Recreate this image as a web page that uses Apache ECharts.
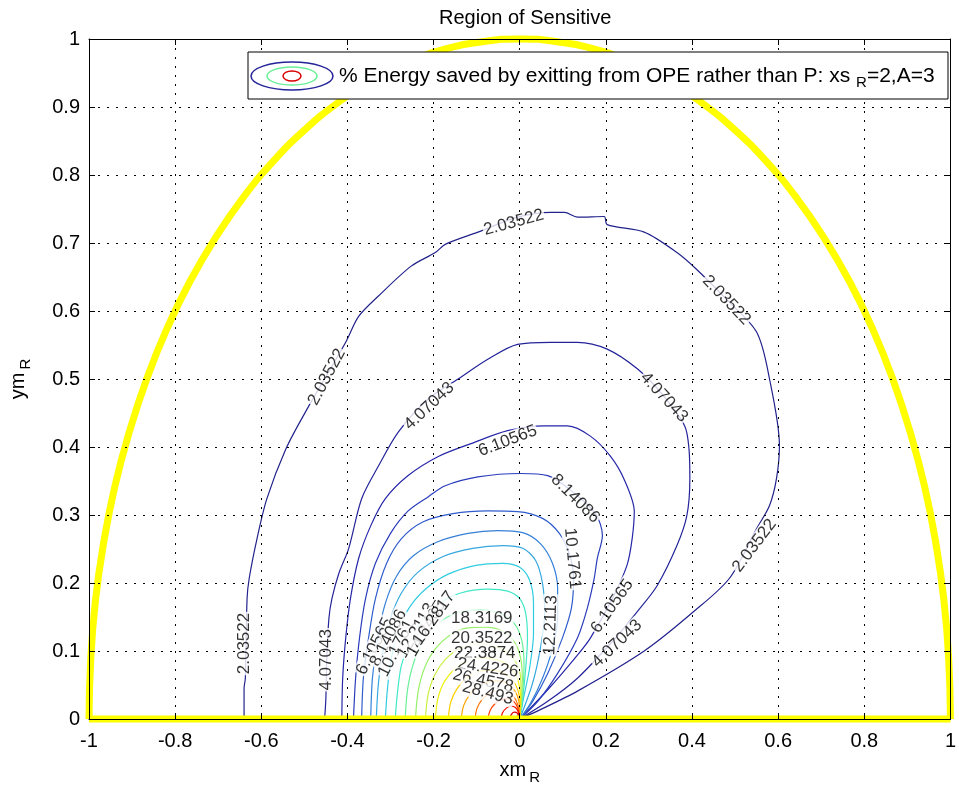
<!DOCTYPE html>
<html>
<head>
<meta charset="utf-8">
<script src="https://cdn.jsdelivr.net/npm/echarts@6/dist/echarts.min.js"></script>
<style>html,body{margin:0;padding:0;background:#fff}#c{width:959px;height:790px}</style>
</head>
<body>
<div id="c"></div>
<script>
// ---- data ----
const xTicks = [-1, -0.8, -0.6, -0.4, -0.2, 0, 0.2, 0.4, 0.6, 0.8, 1];
const yTicks = [0, 0.1, 0.2, 0.3, 0.4, 0.5, 0.6, 0.7, 0.8, 0.9, 1];
const levels = [2.03522, 4.07043, 6.10565, 8.14086, 10.1761, 12.2113, 14.2465, 16.2817, 18.3169, 20.3522,
                22.3874, 24.4226, 26.4578, 28.493, 30.5283, 32.5635, 34.5987, 36.6339, 38.6691, 40.7044];
const levelColors = ['#22228c', '#24249a', '#2626a8', '#2a3cbc', '#2f5ccc', '#3480d8', '#35a8e0', '#30cce0',
                     '#40e8c8', '#6af098', '#98f06a', '#c8f040', '#f0f010', '#ffd000', '#ffa400', '#ff7300',
                     '#ff4300', '#f01200', '#d80000', '#b00000'];

const c1 = [[-0.640,0],[-0.640,0.045],[-0.637,0.06],[-0.633,0.177],[-0.628,0.207],[-0.61,0.265],[-0.587,0.324],[-0.543,0.397],[-0.497,0.452],[-0.404,0.554],[-0.374,0.592],[-0.328,0.622],[-0.252,0.666],[-0.196,0.686],[-0.173,0.698],[-0.097,0.716],[-0.005,0.738],[0.072,0.745],[0.104,0.745],[0.134,0.738],[0.196,0.739],[0.203,0.727],[0.289,0.716],[0.365,0.686],[0.411,0.661],[0.48,0.617],[0.55,0.569],[0.58,0.5],[0.603,0.402],[0.596,0.353],[0.58,0.314],[0.55,0.28],[0.487,0.207],[0.404,0.158],[0.289,0.1],[0.134,0.041],[0.042,0.012],[0,0]];
const c2 = [[-0.453,0],[-0.45,0.031],[-0.448,0.089],[-0.443,0.148],[-0.436,0.177],[-0.42,0.214],[-0.397,0.251],[-0.367,0.324],[-0.328,0.372],[-0.282,0.422],[-0.212,0.471],[-0.143,0.5],[-0.074,0.529],[-0.005,0.551],[0.072,0.554],[0.134,0.554],[0.203,0.544],[0.273,0.515],[0.33,0.478],[0.383,0.431],[0.393,0.397],[0.395,0.353],[0.388,0.299],[0.365,0.255],[0.319,0.196],[0.273,0.158],[0.215,0.114],[0.134,0.06],[0.065,0.026],[0,0]];
const c3 = [[-0.413,0],[-0.411,0.06],[-0.404,0.119],[-0.393,0.177],[-0.374,0.236],[-0.346,0.284],[-0.312,0.324],[-0.259,0.358],[-0.189,0.386],[-0.113,0.405],[-0.028,0.424],[0.058,0.431],[0.111,0.431],[0.164,0.416],[0.21,0.387],[0.242,0.353],[0.266,0.305],[0.261,0.265],[0.249,0.226],[0.215,0.177],[0.164,0.119],[0.134,0.094],[0.065,0.043],[0,0]];
const c4 = [[-0.386,0],[-0.381,0.06],[-0.372,0.119],[-0.358,0.177],[-0.335,0.229],[-0.3,0.273],[-0.259,0.306],[-0.212,0.327],[-0.173,0.343],[-0.097,0.356],[0.002,0.361],[0.065,0.358],[0.129,0.331],[0.176,0.302],[0.192,0.27],[0.18,0.236],[0.173,0.207],[0.157,0.163],[0.134,0.119],[0.088,0.067],[0.042,0.026],[0,0]];
const c5 = [[-0.367,0],[-0.363,0.06],[-0.351,0.119],[-0.335,0.177],[-0.309,0.229],[-0.275,0.265],[-0.224,0.29],[-0.155,0.302],[-0.074,0.306],[-0.005,0.305],[0.053,0.295],[0.092,0.273],[0.115,0.243],[0.125,0.207],[0.12,0.163],[0.099,0.119],[0.065,0.067],[0.03,0.026],[0,0]];
const c6 = [[-0.346,0],[-0.342,0.06],[-0.33,0.119],[-0.312,0.17],[-0.286,0.21],[-0.247,0.24],[-0.189,0.261],[-0.12,0.273],[-0.051,0.277],[0.007,0.274],[0.048,0.258],[0.076,0.229],[0.088,0.192],[0.088,0.148],[0.076,0.104],[0.053,0.06],[0.025,0.023],[0,0]];
const c7 = [[-0.333,0],[-0.328,0.053],[-0.316,0.104],[-0.3,0.148],[-0.275,0.185],[-0.236,0.216],[-0.178,0.239],[-0.109,0.251],[-0.039,0.255],[0.007,0.251],[0.037,0.233],[0.053,0.199],[0.058,0.155],[0.048,0.104],[0.03,0.053],[0,0]];
const c8 = [[-0.312,0],[-0.307,0.045],[-0.298,0.089],[-0.282,0.13],[-0.254,0.166],[-0.217,0.192],[-0.166,0.213],[-0.102,0.226],[-0.039,0.229],[0,0.223],[0.023,0.204],[0.032,0.17],[0.032,0.126],[0.023,0.075],[0.009,0.031],[0,0]];
const c9 = [[-0.289,0],[-0.284,0.038],[-0.275,0.078],[-0.256,0.113],[-0.229,0.144],[-0.189,0.169],[-0.139,0.185],[-0.074,0.191],[-0.028,0.188],[0,0.177],[0.014,0.155],[0.018,0.119],[0.014,0.075],[0.007,0.031],[0,0]];
const c10 = [[-0.266,0],[-0.26,0.045],[-0.245,0.085],[-0.22,0.118],[-0.185,0.143],[-0.14,0.157],[-0.09,0.16],[-0.045,0.155],[-0.012,0.14],[0.005,0.115],[0.01,0.08],[0.007,0.04],[0,0]];
const c11 = [[-0.242,0],[-0.236,0.04],[-0.221,0.075],[-0.196,0.103],[-0.16,0.124],[-0.12,0.134],[-0.08,0.135],[-0.04,0.129],[-0.012,0.113],[0.002,0.09],[0.006,0.06],[0.004,0.03],[0,0]];
const c12 = [[-0.219,0],[-0.213,0.035],[-0.198,0.064],[-0.172,0.088],[-0.138,0.104],[-0.1,0.11],[-0.065,0.108],[-0.033,0.1],[-0.01,0.085],[0.002,0.062],[0.003,0.035],[0,0]];
const c13 = [[-0.196,0],[-0.19,0.03],[-0.175,0.055],[-0.15,0.074],[-0.118,0.086],[-0.085,0.09],[-0.052,0.087],[-0.025,0.078],[-0.007,0.062],[0.001,0.04],[0.002,0.02],[0,0]];
const c14 = [[-0.166,0],[-0.16,0.025],[-0.145,0.045],[-0.122,0.061],[-0.094,0.07],[-0.065,0.072],[-0.038,0.068],[-0.017,0.058],[-0.004,0.042],[0.001,0.022],[0,0]];
const c15 = [[-0.136,0],[-0.13,0.02],[-0.116,0.036],[-0.096,0.048],[-0.072,0.055],[-0.048,0.056],[-0.027,0.051],[-0.011,0.041],[-0.002,0.026],[0,0]];
const c16 = [[-0.104,0],[-0.099,0.016],[-0.087,0.029],[-0.07,0.038],[-0.05,0.042],[-0.03,0.04],[-0.014,0.033],[-0.004,0.02],[0,0]];
const c17 = [[-0.074,0],[-0.069,0.012],[-0.058,0.022],[-0.043,0.028],[-0.027,0.03],[-0.014,0.026],[-0.005,0.017],[0,0]];
const c18 = [[-0.044,0],[-0.04,0.009],[-0.031,0.016],[-0.02,0.019],[-0.01,0.017],[-0.003,0.01],[0,0]];
const c19 = [[-0.023,0],[-0.02,0.006],[-0.013,0.01],[-0.006,0.009],[0,0]];
const c20 = [[-0.012,0],[-0.008,0.004],[-0.003,0.004],[0,0]];
const contours = [c1,c2,c3,c4,c5,c6,c7,c8,c9,c10,c11,c12,c13,c14,c15,c16,c17,c18,c19,c20];

// boundary of the region (unit half disc), yellow dots
const arcX = [1,0.996,0.985,0.966,0.940,0.906,0.866,0.819,0.766,0.707,0.643,0.574,0.5,0.423,0.342,0.259,0.174,0.087,0,
              -0.087,-0.174,-0.259,-0.342,-0.423,-0.5,-0.574,-0.643,-0.707,-0.766,-0.819,-0.866,-0.906,-0.940,-0.966,-0.985,-0.996,-1];
const arcY = [0,0.087,0.174,0.259,0.342,0.423,0.5,0.574,0.643,0.707,0.766,0.819,0.866,0.906,0.940,0.966,0.985,0.996,1,
              0.996,0.985,0.966,0.940,0.906,0.866,0.819,0.766,0.707,0.643,0.574,0.5,0.423,0.342,0.259,0.174,0.087,0];
const baseX = [-1, 1];
const baseY = [0, 0];

// contour labels
const labelTexts = ['2.03522','2.03522','2.03522','2.03522','2.03522','4.07043','4.07043','4.07043','4.07043',
  '6.10565','6.10565','6.10565','8.14086','8.14086','10.1761','10.1761','12.2113','12.2113','14.2465','16.2817',
  '18.3169','20.3522','22.3874','24.4226','26.4578','28.493'];
const labelX = [-0.64,-0.448,-0.014,0.48,0.545,-0.448,-0.21,0.335,0.226,-0.028,0.215,-0.337,0.129,-0.305,0.122,-0.286,
  0.072,-0.24,-0.217,-0.199,-0.088,-0.088,-0.081,-0.074,-0.085,-0.074];
const labelY = [0.111,0.503,0.730,0.616,0.255,0.087,0.46,0.473,0.111,0.409,0.166,0.107,0.324,0.119,0.236,0.104,
  0.138,0.13,0.133,0.148,0.148,0.119,0.097,0.075,0.056,0.038];
const labelAngles = [90,62,15,-46,53,90,43,-47,43,21,55,63,-45,63,-85,63,88,60,60,55,0,0,0,-8,-12,-15];

// ---- chart ----
const FONT = 'Liberation Sans, Arial, Helvetica, sans-serif';
const fmt1 = v => String(Math.round(v * 10) / 10);
const chart = echarts.init(document.getElementById('c'), null, {renderer: 'canvas'});

const series = [];
contours.forEach((c, i) => {
  series.push({
    type: 'line', name: String(levels[i]), data: c, symbol: 'none', smooth: 0.3,
    lineStyle: {width: 1.2, color: levelColors[i]}, z: 3, silent: true
  });
});
series.push({
  type: 'line', data: arcX.map((x, i) => [x, arcY[i]]), symbol: 'none', smooth: true, clip: false,
  lineStyle: {width: 7, color: '#ffff00'}, z: 4, silent: true
});
series.push({
  type: 'line', data: baseX.map((x, i) => [x, baseY[i]]), symbol: 'none', clip: false,
  lineStyle: {width: 7, color: '#ffff00'}, z: 4, silent: true
});
series.push({
  type: 'scatter', symbolSize: 1, itemStyle: {color: 'rgba(0,0,0,0)'}, z: 6, silent: true,
  data: labelTexts.map((t, i) => ({
    value: [labelX[i], labelY[i]],
    label: {rotate: labelAngles[i], formatter: t}
  })),
  label: {show: true, position: 'inside', color: '#000', fontSize: 17, fontFamily: FONT,
          backgroundColor: '#fff', padding: [0, 1]}
});

const axisCommon = {
  type: 'value', z: 10,
  axisLine: {show: true, onZero: false, lineStyle: {color: '#000', width: 1}},
  axisTick: {show: true, inside: true, length: 6, lineStyle: {color: '#000'}},
};

chart.setOption({
  animation: false,
  backgroundColor: '#fff',
  title: {text: 'Region of Sensitive', left: 434, top: 3,
          textStyle: {fontSize: 20, fontWeight: 'normal', color: '#000', fontFamily: FONT}},
  grid: {left: 89, right: 3, top: 39, bottom: 69, containLabel: false},
  xAxis: [
    Object.assign({}, axisCommon, {
      min: xTicks[0], max: xTicks[xTicks.length - 1], interval: 0.2, position: 'bottom',
      axisLabel: {color: '#000', fontSize: 20, margin: 12, fontFamily: FONT, formatter: fmt1},
      splitLine: {show: true, lineStyle: {color: '#000', type: [2, 7], width: 1}},
      name: '{a|xm}{s|R}', nameLocation: 'middle', nameGap: 37,
      nameTextStyle: {color: '#000', fontFamily: FONT,
        rich: {a: {fontSize: 20, fontFamily: FONT, color: '#000'}, s: {fontSize: 15, fontFamily: FONT, color: '#000', padding: [14, 0, 0, 3]}}}
    }),
    Object.assign({}, axisCommon, {
      min: xTicks[0], max: xTicks[xTicks.length - 1], interval: 0.2, position: 'top',
      axisLabel: {show: false}, splitLine: {show: false}
    })
  ],
  yAxis: [
    Object.assign({}, axisCommon, {
      min: yTicks[0], max: yTicks[yTicks.length - 1], interval: 0.1, position: 'left',
      axisLabel: {color: '#000', fontSize: 20, margin: 9, fontFamily: FONT, formatter: fmt1},
      splitLine: {show: true, lineStyle: {color: '#000', type: [2, 7], width: 1}},
      name: '{a|ym}{s|R}', nameLocation: 'middle', nameGap: 56, nameRotate: 90,
      nameTextStyle: {color: '#000', fontFamily: FONT,
        rich: {a: {fontSize: 20, fontFamily: FONT, color: '#000'}, s: {fontSize: 15, fontFamily: FONT, color: '#000', padding: [14, 0, 0, 3]}}}
    }),
    Object.assign({}, axisCommon, {
      min: yTicks[0], max: yTicks[yTicks.length - 1], interval: 0.1, position: 'right',
      axisLabel: {show: false}, splitLine: {show: false}
    })
  ],
  graphic: [{
    type: 'group', x: 248, y: 52, z: 100,
    children: [
      {type: 'rect', shape: {x: 0, y: 0, width: 700, height: 47}, style: {fill: '#fff', stroke: '#000', lineWidth: 1}, z: 100},
      {type: 'ellipse', shape: {cx: 44, cy: 24, rx: 41, ry: 14}, style: {fill: 'none', stroke: levelColors[1], lineWidth: 1.5}, z: 101},
      {type: 'ellipse', shape: {cx: 44, cy: 24, rx: 25, ry: 9}, style: {fill: 'none', stroke: levelColors[9], lineWidth: 1.5}, z: 101},
      {type: 'ellipse', shape: {cx: 44, cy: 24, rx: 9, ry: 5}, style: {fill: 'none', stroke: levelColors[18], lineWidth: 1.5}, z: 101},
      {type: 'text', x: 91, y: 24, z: 101, style: {
        text: '{a|% Energy saved by exitting from OPE rather than P: xs }{s|R}{a|=2,A=3}',
        verticalAlign: 'middle', fill: '#000',
        rich: {a: {fontSize: 21, fontFamily: FONT, fill: '#000', color: '#000'},
               s: {fontSize: 15, fontFamily: FONT, fill: '#000', color: '#000', padding: [14, 0, 0, 0]}}
      }}
    ]
  }],
  series: series
});
</script>
</body>
</html>
